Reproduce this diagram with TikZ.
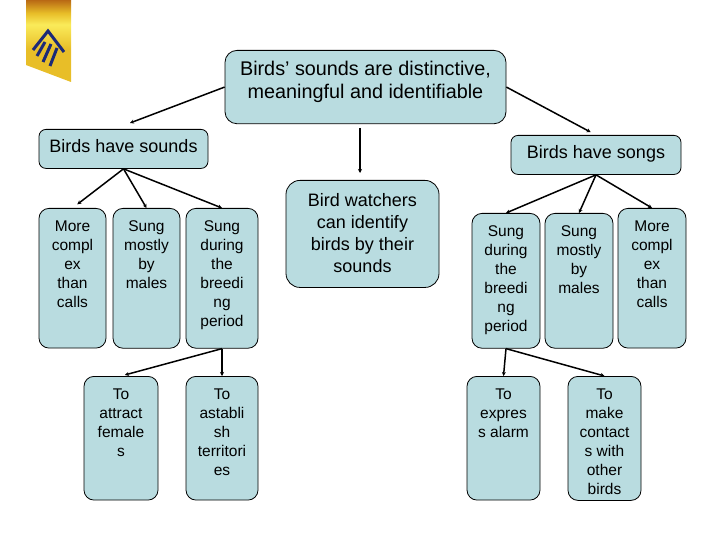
\documentclass[tikz,border=0pt]{standalone}
\usepackage{fontspec}
\setmainfont{Liberation Sans}
\usetikzlibrary{arrows.meta}
\definecolor{boxfill1}{RGB}{185,220,224}
\definecolor{logoblue1}{RGB}{28,42,120}
\definecolor{logogold1}{RGB}{232,190,40}
\definecolor{logolight1}{RGB}{250,235,90}
\definecolor{logobrown1}{RGB}{185,105,20}
\pgfdeclareverticalshading{logoband}{100bp}{color(0bp)=(logogold1); color(45bp)=(logogold1); color(60bp)=(logolight1); color(67bp)=(logogold1); color(75bp)=(logobrown1); color(100bp)=(logobrown1)}
\begin{document}
\begin{tikzpicture}[x=1pt, y=-1pt,
  box/.style={draw=black, fill=boxfill1, line width=0.8pt, align=center, anchor=north, inner xsep=1pt},
  bigbox/.style={box, font=\fontsize{18}{22}\selectfont},
  tallbox/.style={box, rounded corners=10pt, inner ysep=12pt, font=\fontsize{15.5}{19}\selectfont},
  link/.style={draw=black, line width=1.5pt, -{Stealth[length=4pt, width=4pt]}}]
\useasboundingbox (0,0) rectangle (720,540);

% LOGO
\shade[shading=logoband] (26,0) -- (71,0) -- (71,82) -- (26,65) -- cycle;
\draw[logoblue1, line width=3pt] (33,50) -- (48,31) -- (64,52);
\draw[logoblue1, line width=3pt] (45,42) -- (37,56);
\draw[logoblue1, line width=3pt] (51,44) -- (43,62);
\draw[logoblue1, line width=3pt] (57,48) -- (50,66);

% TOP ROW
\node[bigbox, font=\fontsize{19.8}{23}\selectfont, rounded corners=12pt, minimum width=281pt, inner ysep=11pt, text depth=14pt] (top) at (365.5,50)
  {Birds' sounds are distinctive,\\meaningful and identifiable};
\node[bigbox, rounded corners=7pt, minimum width=169pt, inner ysep=10pt, text depth=6pt] (sounds) at (123.5,129)
  {Birds have sounds};
\node[bigbox, rounded corners=7pt, minimum width=170pt, inner ysep=10pt, text depth=6pt] (songs) at (596,135)
  {Birds have songs};
\node[bigbox, rounded corners=14pt, minimum width=153pt, inner ysep=13pt, text depth=2pt] (watchers) at (362.5,180)
  {Bird watchers\\can identify\\birds by their\\sounds};

% LEFT BRANCH
\node[tallbox, minimum width=67pt, text depth=29pt] (more) at (72.5,208) {More\\compl\\ex\\than\\calls};
\node[tallbox, minimum width=67pt, text depth=48pt] (mostly) at (146.5,208) {Sung\\mostly\\by\\males};
\node[tallbox, minimum width=72pt, text depth=10pt] (during) at (222,208) {Sung\\during\\the\\breedi\\ng\\period};
\node[tallbox, minimum width=74pt, text depth=32pt] (attract) at (121,376) {To\\attract\\female\\s};
\node[tallbox, minimum width=72pt, text depth=13pt] (astablish) at (222,376) {To\\astabli\\sh\\territori\\es};

% RIGHT BRANCH
\node[tallbox, minimum width=68pt, text depth=5pt] (rduring) at (506,213) {Sung\\during\\the\\breedi\\ng\\period};
\node[tallbox, minimum width=68pt, text depth=43pt] (rmostly) at (579,213) {Sung\\mostly\\by\\males};
\node[tallbox, minimum width=68pt, text depth=29pt] (rmore) at (652,208) {More\\compl\\ex\\than\\calls};
\node[tallbox, minimum width=73pt, text depth=51pt] (express) at (503.5,376) {To\\expres\\s alarm};
\node[tallbox, minimum width=73pt, inner ysep=4pt, text height=114pt, text depth=2pt] (contact) at (604.5,376) {To\\make\\contact\\s with\\other\\birds};

% ARROWS
\coordinate (soundsTip) at (130,123);
\coordinate (midFrom) at (360,128);
\coordinate (midTip) at (360,173);
\draw[link] (top.west) -- (soundsTip);
\draw[link, shorten >=6pt] (top.east) -- (songs.north);
\draw[link] (midFrom) -- (midTip);
\draw[link, shorten >=6pt] (sounds.south) -- (more.north);
\draw[link] (sounds.south) -- (mostly.north);
\draw[link] (sounds.south) -- (during.north);
\draw[link] (songs.south) -- (rduring.north);
\draw[link] (songs.south) -- (rmostly.north);
\draw[link] (songs.south) -- (rmore.north);
\draw[link, shorten >=4pt] (during.south) -- (attract.north);
\draw[link] (during.south) -- (astablish.north);
\draw[link] (rduring.south) -- (express.north);
\draw[link] (rduring.south) -- (contact.north);

\end{tikzpicture}
\end{document}
